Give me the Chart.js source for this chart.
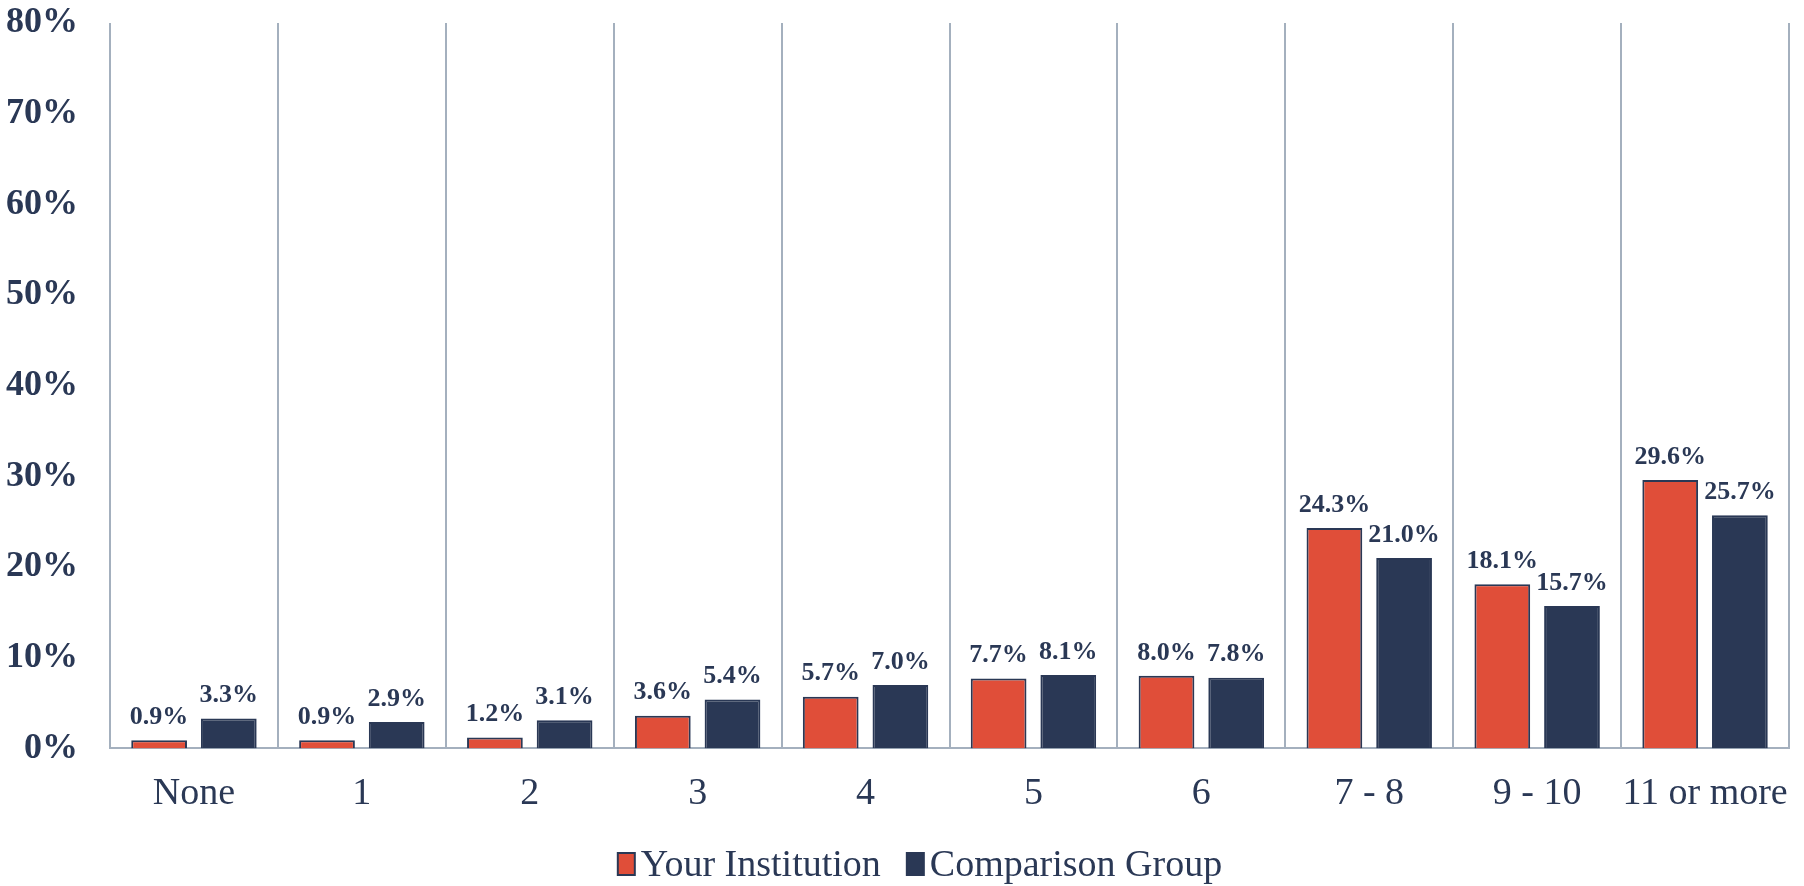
<!DOCTYPE html>
<html>
<head>
<meta charset="utf-8">
<script src="https://cdn.jsdelivr.net/npm/chart.js@4"></script>
<style>
  html, body { margin: 0; padding: 0; background: #ffffff; }
  #wrap { width: 1804px; height: 886px; }
</style>
</head>
<body>
<div id="wrap"><canvas id="chart"></canvas></div>
<script>
// Datos
const categories = ['None', '1', '2', '3', '4', '5', '6', '7 - 8', '9 - 10', '11 or more'];
const yourInstitution = [0.9, 0.9, 1.2, 3.6, 5.7, 7.7, 8.0, 24.3, 18.1, 29.6];
const comparisonGroup = [3.3, 2.9, 3.1, 5.4, 7.0, 8.1, 7.8, 21.0, 15.7, 25.7];
const seriesNames = ['Your Institution', 'Comparison Group'];

const RED = '#E04E39';
const NAVY = '#2A3855';
const GRID = '#A4B0BE';
const FONT = "'Liberation Serif', 'Times New Roman', serif";

// Plugin: etiquetas de valor encima de cada barra
const valueLabels = {
    id: 'valueLabels',
    afterDatasetsDraw(chart) {
        const c = chart.ctx;
        c.save();
        c.font = 'bold 26px ' + FONT;
        c.fillStyle = NAVY;
        c.textAlign = 'center';
        c.textBaseline = 'bottom';
        chart.data.datasets.forEach((ds, i) => {
            chart.getDatasetMeta(i).data.forEach((bar, j) => {
                c.fillText(ds.data[j].toFixed(1) + '%', bar.x, bar.y - 10);
            });
        });
        c.restore();
    }
};

// Plugin: leyenda propia (cuadro pegado al texto, como en Excel)
const bottomLegend = {
    id: 'bottomLegend',
    afterDraw(chart) {
        const c = chart.ctx;
        const boxW = 17, boxH = 22, gapText = 6, gapItem = 26;
        const y = chart.height - 22;
        c.save();
        c.font = '38px ' + FONT;
        c.textBaseline = 'middle';
        const items = chart.data.datasets.map((ds) => ({ ds, w: c.measureText(ds.label).width }));
        const total = items.reduce((s, it) => s + boxW + gapText + it.w, 0) + gapItem * (items.length - 1);
        let x = chart.width / 2 + 18 - total / 2;
        items.forEach((it) => {
            c.fillStyle = it.ds.backgroundColor;
            c.strokeStyle = it.ds.borderColor;
            c.lineWidth = 2;
            c.fillRect(x, y - boxH / 2, boxW, boxH);
            c.strokeRect(x, y - boxH / 2, boxW, boxH);
            c.fillStyle = NAVY;
            c.textAlign = 'left';
            c.fillText(it.ds.label, x + boxW + gapText, y + 2);
            x += boxW + gapText + it.w + gapItem;
        });
        c.restore();
    }
};

new Chart(document.getElementById('chart'), {
    type: 'bar',
    data: {
        labels: categories,
        datasets: [
            { label: seriesNames[0], data: yourInstitution, backgroundColor: RED, borderColor: NAVY, borderWidth: 2 },
            { label: seriesNames[1], data: comparisonGroup, backgroundColor: NAVY, borderColor: NAVY, borderWidth: 2 }
        ]
    },
    options: {
        responsive: true,
        maintainAspectRatio: false,
        animation: false,
        categoryPercentage: 0.83,
        barPercentage: 0.8,
        layout: { padding: { left: 4, right: 15, top: 0, bottom: 46 } },
        plugins: {
            legend: { display: false },
            tooltip: { enabled: false }
        },
        scales: {
            x: {
                grid: { color: GRID, lineWidth: 2, drawTicks: false },
                border: { color: GRID, width: 2 },
                ticks: {
                    color: NAVY,
                    font: { family: FONT, size: 38 },
                    padding: 23,
                    maxRotation: 0,
                    minRotation: 0,
                    autoSkip: false
                },
                afterFit: (s) => { s.paddingLeft = 0; s.paddingRight = 0; }
            },
            y: {
                min: 0,
                max: 80,
                grid: { display: false, drawTicks: false },
                border: { display: false },
                ticks: {
                    stepSize: 10,
                    color: NAVY,
                    padding: 32,
                    font: { family: FONT, size: 36, weight: 'bold' },
                    callback: (v) => v + '%'
                },
                afterFit: (s) => { s.width = 106; s.paddingTop = 23; }
            }
        }
    },
    plugins: [valueLabels, bottomLegend]
});
</script>
</body>
</html>
